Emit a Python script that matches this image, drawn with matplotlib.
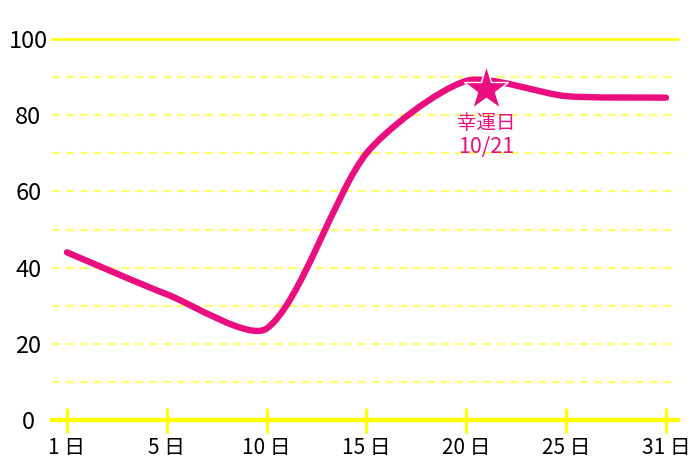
import numpy as np
import matplotlib
matplotlib.use("Agg")
from matplotlib import pyplot as plt
from matplotlib.path import Path
from matplotlib.patches import PathPatch

plt.rcParams['font.family'] = ['Noto Sans CJK JP', 'DejaVu Sans']
plt.rcParams['lines.scale_dashes'] = False

# データ
days = [1, 5, 10, 15, 20, 25, 31]
day_labels = ['1 日', '5 日', '10 日', '15 日', '20 日', '25 日', '31 日']
values = [44, 33, 24, 70, 89, 85, 84.6]
lucky_day = 21
lucky_value = 87
lucky_text = ['幸運日', '10/21']

PINK = '#EA0E80'
YELLOW = '#FFFF00'
GRID = '#FFFF70'


def spline_path(ax, xs, ys, tension=0.25):
    """Chart.js風の曲線（表示座標で制御点を計算）"""
    pts = ax.transData.transform(np.column_stack([xs, ys]))
    n = len(pts)
    cps = []
    for i in range(n):
        prev = pts[max(i - 1, 0)]
        cur = pts[i]
        nxt = pts[min(i + 1, n - 1)]
        d01 = np.hypot(*(cur - prev))
        d12 = np.hypot(*(nxt - cur))
        tot = d01 + d12
        s01 = d01 / tot if tot else 0
        s12 = d12 / tot if tot else 0
        cps.append((cur - tension * s01 * (nxt - prev), cur + tension * s12 * (nxt - prev)))
    verts = [pts[0]]
    codes = [Path.MOVETO]
    for i in range(n - 1):
        verts += [cps[i][1], cps[i + 1][0], pts[i + 1]]
        codes += [Path.CURVE4] * 3
    verts = ax.transData.inverted().transform(np.array(verts))
    return Path(verts, codes)


fig = plt.figure(figsize=(7, 4.67), dpi=100)
ax = fig.add_axes([52 / 700, 47 / 467, 626 / 700, 381 / 467])
ax.set_xlim(-0.15, 6.12)
ax.set_ylim(0, 100)
for s in ax.spines.values():
    s.set_visible(False)

pos = np.arange(len(days))

# グリッド
for y in range(10, 100, 10):
    ax.axhline(y, color=GRID, lw=1.6, linestyle=(0, (6, 4)), zorder=1)
ax.axhline(100, color=YELLOW, lw=1.8, zorder=1, clip_on=False)
ax.axhline(0, color=YELLOW, lw=3.2, zorder=2, clip_on=False)

# 目盛り
ax.set_yticks(range(0, 101, 20))
ax.set_yticklabels([str(v) for v in range(0, 101, 20)], ha='center', fontsize=17)
ax.tick_params(axis='y', length=0, pad=17)
ax.set_xticks(pos)
ax.set_xticklabels(day_labels, fontsize=15)
ax.tick_params(axis='x', direction='inout', length=18, width=2.2, color=YELLOW, pad=3)
for t in ax.xaxis.get_major_ticks():
    t.tick1line.set_zorder(3)

# 折れ線
path = spline_path(ax, pos, values)
ax.add_patch(PathPatch(path, facecolor='none', edgecolor=PINK, lw=4.6,
                       capstyle='round', joinstyle='round', zorder=4))

# 幸運日
lx = np.interp(lucky_day, days, pos)
ax.plot([lx], [lucky_value], marker='*', ms=34, color=PINK, mec='white', mew=1, zorder=5)
ax.annotate(lucky_text[0], (lx, lucky_value), xytext=(0, -25), textcoords='offset points',
            ha='center', va='center', color=PINK, fontsize=14)
ax.annotate(lucky_text[1], (lx, lucky_value), xytext=(0, -42), textcoords='offset points',
            ha='center', va='center', color=PINK, fontsize=15.5)

fig.savefig('out.png', dpi=100)
